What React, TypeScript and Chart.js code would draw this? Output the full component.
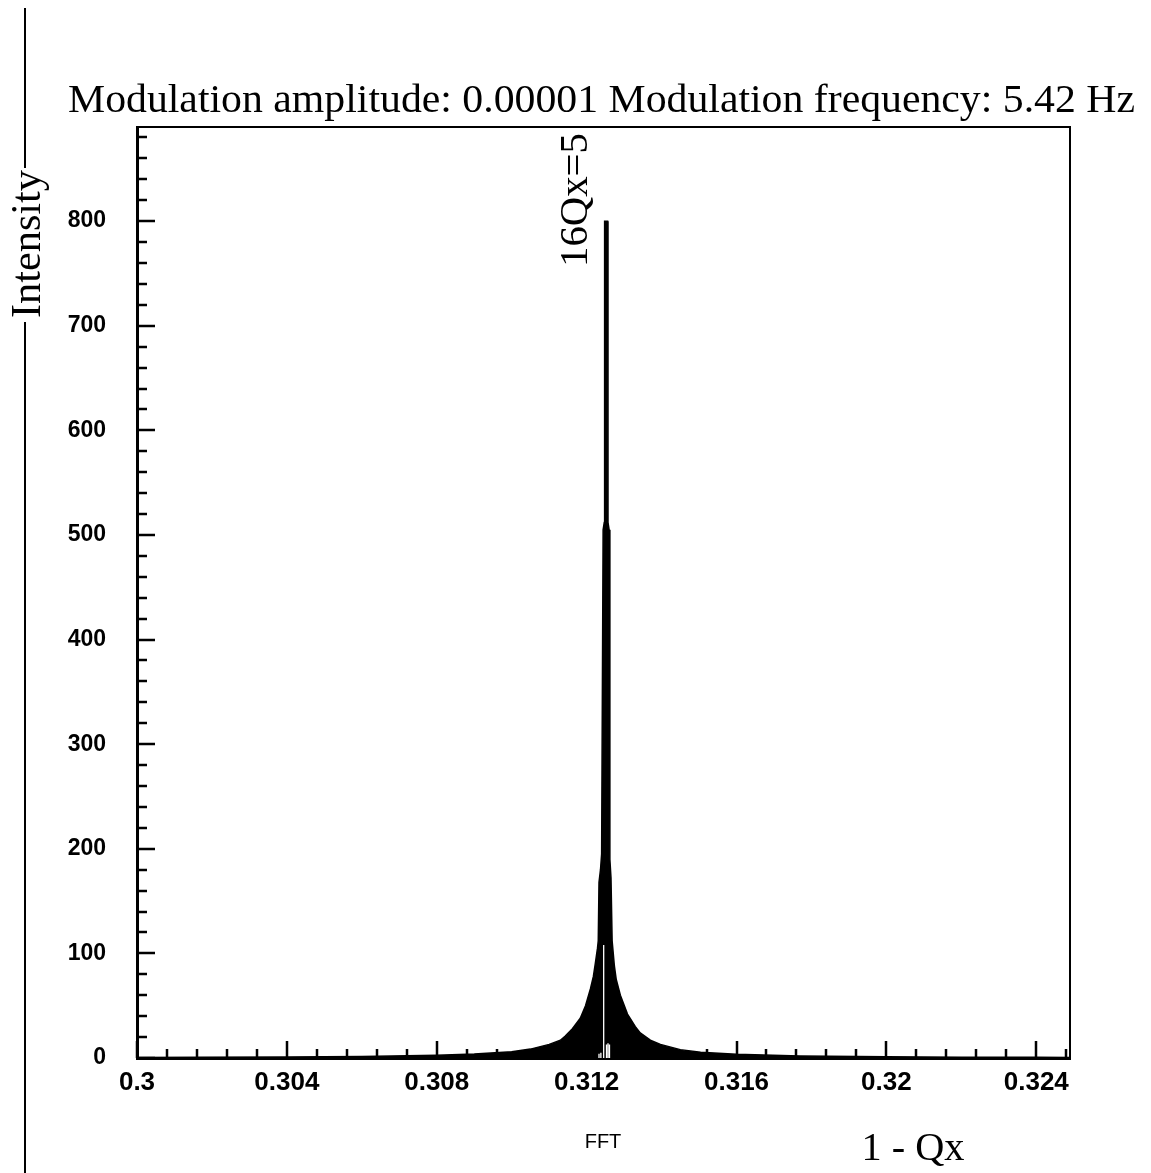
import React, { useEffect, useRef } from 'react';
import { Chart, registerables } from 'chart.js';

Chart.register(...registerables);

// ---- data (FFT spectrum, 1 - Qx vs intensity) ----
const freq = [
  0.3, 0.3017, 0.304, 0.306, 0.308, 0.309, 0.31, 0.3105, 0.311, 0.3113,
  0.31143, 0.31162, 0.31183, 0.31197, 0.3121, 0.31218, 0.31223, 0.31229,
  0.31231, 0.31233, 0.31237, 0.3124, 0.31244, 0.31247, 0.31248, 0.31256,
  0.31257, 0.3126, 0.31262, 0.31265, 0.31268,
  0.31271, 0.31274, 0.31279, 0.3129, 0.31309, 0.3133, 0.31343, 0.3137,
  0.31397, 0.3145, 0.31504, 0.316, 0.3177, 0.32, 0.322, 0.324, 0.3249,
];
const intensity = [
  0.5, 0.7, 1.0, 1.5, 2.6, 3.8, 6, 8.5, 13, 17,
  21, 28, 38, 50, 66, 78, 90, 105,
  112, 168, 180, 195, 505, 512, 800, 800,
  512, 505, 190, 172, 112,
  100, 88, 75, 60, 42, 30, 24, 17,
  13, 8, 5.5, 3.5, 2.0, 1.2, 0.8, 0.6, 0.5,
];
// white gaps seen under the peak (position, height)
const gapFreq = [0.312455, 0.31233, 0.31238, 0.31253, 0.31257, 0.31261];
const gapIntensity = [108, 4, 5, 13, 14, 13];

const xMin = 0.3;
const xMax = 0.3249;
const yMin = 0;
const yMax = 890;
const xMajorStep = 0.004;
const xMinorStep = 0.0008;
const yMajorStep = 100;
const yMinorStep = 20;

const titleText = 'Modulation amplitude: 0.00001 Modulation frequency: 5.42 Hz';
const yTitleText = 'Intensity';
const peakLabel = '16Qx=5';
const xTitleText = '1 - Qx';
const subText = 'FFT';

const isMultiple = (v: number, step: number) =>
  Math.abs(v / step - Math.round(v / step)) < 1e-6;

const SERIF = '"Liberation Serif", "Times New Roman", serif';
const SANS = '"Liberation Sans", Arial, sans-serif';

function fitText(
  ctx: CanvasRenderingContext2D,
  text: string,
  x: number,
  y: number,
  size: number,
  targetWidth: number | null,
  rotate: number
) {
  ctx.save();
  ctx.font = `${size}px ${SERIF}`;
  ctx.textAlign = 'center';
  ctx.textBaseline = 'alphabetic';
  ctx.translate(x, y);
  ctx.rotate(rotate);
  if (targetWidth) {
    const w = ctx.measureText(text).width;
    ctx.scale(targetWidth / w, 1);
  }
  ctx.fillText(text, 0, 0);
  ctx.restore();
}

const decorPlugin = {
  id: 'decor',
  afterDraw(chart: any) {
    const { ctx, chartArea: ca, scales } = chart;
    const xs = scales.x;
    const ys = scales.y;
    ctx.save();
    ctx.strokeStyle = '#000';
    ctx.fillStyle = '#000';
    ctx.lineCap = 'butt';

    // top & right frame
    ctx.lineWidth = 2;
    ctx.beginPath();
    ctx.moveTo(ca.left, ca.top);
    ctx.lineTo(ca.right, ca.top);
    ctx.lineTo(ca.right, ca.bottom);
    ctx.stroke();

    // inward ticks
    ctx.lineWidth = 2.5;
    ctx.beginPath();
    ys.ticks.forEach((t: any) => {
      if (!isMultiple(t.value, yMinorStep)) return;
      const py = Math.round(ys.getPixelForValue(t.value));
      const len = isMultiple(t.value, yMajorStep) ? 18 : 10;
      ctx.moveTo(ca.left, py);
      ctx.lineTo(ca.left + len, py);
    });
    xs.ticks.forEach((t: any) => {
      if (!isMultiple(t.value, xMinorStep)) return;
      const px = Math.round(xs.getPixelForValue(t.value));
      const len = isMultiple(t.value, xMajorStep) ? 17 : 9;
      ctx.moveTo(px, ca.bottom);
      ctx.lineTo(px, ca.bottom - len);
    });
    ctx.stroke();

    // left decorative line with axis title
    ctx.lineWidth = 2;
    ctx.beginPath();
    ctx.moveTo(25, 8);
    ctx.lineTo(25, 168);
    ctx.moveTo(25, 322);
    ctx.lineTo(25, chart.height);
    ctx.stroke();

    // texts
    fitText(ctx, titleText, 601.5, 112, 40, 1067, 0);
    fitText(ctx, yTitleText, 40, 244, 42, 148, -Math.PI / 2);
    fitText(ctx, peakLabel, 587, 200, 40, 134, -Math.PI / 2);
    fitText(ctx, xTitleText, 913, 1160, 40, 103, 0);

    ctx.font = `20px ${SANS}`;
    ctx.textAlign = 'center';
    ctx.textBaseline = 'alphabetic';
    ctx.fillText(subText, 603, 1148);
    ctx.restore();
  },
};

export default function App() {
  const ref = useRef<HTMLCanvasElement | null>(null);

  useEffect(() => {
    document.body.style.margin = '0';
    document.body.style.background = '#fff';
    const canvas = ref.current;
    if (!canvas) return;
    const gapPoints: any[] = [];
    gapFreq.forEach((f, i) => {
      gapPoints.push({ x: f, y: 0 }, { x: f, y: gapIntensity[i] }, { x: f, y: null });
    });
    const chart = new Chart(canvas, {
      type: 'line',
      data: {
        datasets: [
          {
            data: freq.map((f, i) => ({ x: f, y: intensity[i] })),
            borderColor: '#000',
            backgroundColor: '#000',
            borderWidth: 1.5,
            pointRadius: 0,
            tension: 0,
            fill: 'origin',
            order: 2,
          },
          {
            data: gapPoints,
            borderColor: '#fff',
            borderWidth: 1.3,
            pointRadius: 0,
            tension: 0,
            fill: false,
            spanGaps: false,
            order: 1,
          },
        ],
      },
      options: {
        responsive: false,
        animation: false,
        events: [],
        layout: { padding: { left: 0, right: 81, top: 127, bottom: 65 } },
        plugins: {
          legend: { display: false },
          tooltip: { enabled: false },
          title: { display: false },
        },
        scales: {
          x: {
            type: 'linear',
            min: xMin,
            max: xMax,
            grid: { display: false, drawTicks: false },
            border: { display: true, width: 3, color: '#000' },
            ticks: {
              stepSize: xMinorStep,
              includeBounds: false,
              autoSkip: false,
              maxRotation: 0,
              minRotation: 0,
              padding: 9,
              color: '#000',
              font: { family: SANS, size: 26, weight: 'bold' },
              callback: (v: any) =>
                isMultiple(Number(v), xMajorStep) ? String(Number(Number(v).toFixed(3))) : '',
            },
            afterFit: (s: any) => {
              s.height = 50;
            },
          },
          y: {
            type: 'linear',
            min: yMin,
            max: yMax,
            grid: { display: false, drawTicks: false },
            border: { display: true, width: 3, color: '#000' },
            ticks: {
              stepSize: yMinorStep,
              includeBounds: false,
              autoSkip: false,
              padding: 31,
              color: '#000',
              font: { family: SANS, size: 23, weight: 'bold' },
              callback: (v: any) => (isMultiple(Number(v), yMajorStep) ? String(v) : ''),
            },
            afterFit: (s: any) => {
              s.width = 137;
            },
          },
        },
      },
      plugins: [decorPlugin],
    } as any);
    return () => chart.destroy();
  }, []);

  return <canvas ref={ref} width={1151} height={1173} style={{ display: 'block' }} />;
}
